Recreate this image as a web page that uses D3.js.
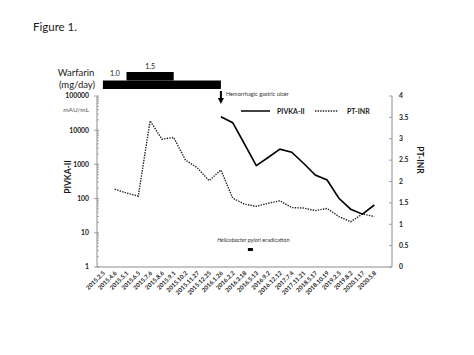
<!DOCTYPE html>
<html><head><meta charset="utf-8">
<script src="https://cdn.jsdelivr.net/npm/d3@7"></script>
<style>
html,body{margin:0;padding:0;background:#fff;}
svg{display:block;font-family:Lato,"Open Sans",sans-serif;}
</style></head>
<body>
<svg id="c" width="474" height="355"></svg>
<script>
const categories = ["2015.2.5","2015.4.6","2015.5.1","2015.6.5","2015.7.6","2015.8.6","2015.9.1","2015.10.2","2015.11.27","2015.12.25","2016.1.26","2016.2.2","2016.3.18","2016.5.13","2016.9.2","2016.12.12","2017.7.4","2017.11.21","2018.5.17","2018.10.19","2019.2.5","2019.8.2","2020.1.17","2020.5.8"];
const pivka = [null,null,null,null,null,null,null,null,null,null,24800,16600,3950,916,1590,2780,2260,1080,490,350,102,49,35,65];
const ptinr = [null,1.82,1.73,1.66,3.42,2.99,3.03,2.50,2.32,2.02,2.27,1.61,1.47,1.42,1.49,1.55,1.39,1.38,1.32,1.37,1.18,1.06,1.24,1.18];
const leftTicks = [1,10,100,1000,10000,100000];
const rightTicks = [0,0.5,1,1.5,2,2.5,3,3.5,4];
const warfarin = [
  {from:"2015.2.5", to:"2016.1.26", dose:1.0, label:"1.0"},
  {from:"2015.5.1", to:"2015.9.1", dose:1.5, label:"1.5"}
];
const ulcerDate = "2016.1.26";
const hpDate = "2016.5.13";

const svg = d3.select("#c");
const L = 97, R = 392, T = 96, B = 267;
const domain = categories.concat([" "]);
const x = d3.scaleBand().domain(domain).range([L, R]);
const xc = d => x(d) + x.bandwidth()/2;
const yL = d3.scaleLog().domain([1,100000]).range([B, T]);
const yR = d3.scaleLinear().domain([0,4]).range([B, T]);
const axisCol = "#8c8c8c";
const txt = "#1a1a1a";

// Title
svg.append("text").attr("x",33).attr("y",31).attr("font-size",11.5).attr("fill",txt).text("Figure 1.");

// Warfarin
svg.append("text").attr("x",76).attr("y",76).attr("text-anchor","middle").attr("font-size",9.5).attr("fill",txt).text("Warfarin");
svg.append("text").attr("x",77).attr("y",88).attr("text-anchor","middle").attr("font-size",9.5).attr("fill",txt).text("(mg/day)");
const yW = d3.scaleLinear().domain([0.5,1.5]).range([89,72]);
svg.selectAll("rect.w").data(warfarin).enter().append("rect")
  .attr("x", d => xc(d.from)).attr("width", d => xc(d.to) - xc(d.from))
  .attr("y", d => yW(d.dose)).attr("height", d => (d.dose > 1 ? yW(1.0) : 89) - yW(d.dose))
  .attr("fill","#000");
svg.append("text").attr("x", 115).attr("y", 76).attr("text-anchor","middle").attr("font-size",7).attr("fill",txt).text(warfarin[0].label);
svg.append("text").attr("x", (xc(warfarin[1].from)+xc(warfarin[1].to))/2).attr("y", 68.5).attr("text-anchor","middle").attr("font-size",7).attr("fill",txt).text(warfarin[1].label);

// Arrow for ulcer
const ax = xc(ulcerDate);
svg.append("line").attr("x1",ax).attr("x2",ax).attr("y1",91).attr("y2",99).attr("stroke","#000").attr("stroke-width",2);
svg.append("path").attr("d",`M${ax-3},98 L${ax+3},98 L${ax},104 Z`).attr("fill","#000");
svg.append("text").attr("x",ax+5).attr("y",96).attr("font-size",5.6).attr("fill","#333").text("Hemorrhagic gastric ulcer");

// Axes lines
svg.append("line").attr("x1",L).attr("x2",L).attr("y1",T).attr("y2",B).attr("stroke",axisCol).attr("stroke-width",1);
svg.append("line").attr("x1",R).attr("x2",R).attr("y1",T).attr("y2",B).attr("stroke",axisCol).attr("stroke-width",1);
svg.append("line").attr("x1",L).attr("x2",R).attr("y1",B).attr("y2",B).attr("stroke",axisCol).attr("stroke-width",1);

// Left axis ticks
const minor = [];
for (let e=0;e<5;e++) for (let m=2;m<=9;m++) minor.push(m*Math.pow(10,e));
svg.selectAll("line.mn").data(minor).enter().append("line")
  .attr("x1",L).attr("x2",L+2).attr("y1",d=>yL(d)).attr("y2",d=>yL(d)).attr("stroke",axisCol).attr("stroke-width",0.7);
svg.selectAll("line.mj").data(leftTicks).enter().append("line")
  .attr("x1",L-3).attr("x2",L+2).attr("y1",d=>yL(d)).attr("y2",d=>yL(d)).attr("stroke",axisCol).attr("stroke-width",0.8);
svg.selectAll("text.lt").data(leftTicks).enter().append("text")
  .attr("x",89).attr("y",d=>yL(d)+2.3).attr("text-anchor","end").attr("font-size",6.8).attr("font-weight","bold").attr("fill",txt).text(d=>d);
svg.append("text").attr("x",89).attr("y",112).attr("text-anchor","end").attr("font-size",6.5).attr("fill","#555").text("mAU/mL");
svg.append("text").attr("transform","translate(71,177) rotate(-90)").attr("text-anchor","middle").attr("font-size",8.5).attr("font-weight","bold").attr("fill",txt).text("PIVKA-II");

// Right axis
svg.selectAll("line.rt").data(rightTicks).enter().append("line")
  .attr("x1",R-3).attr("x2",R).attr("y1",d=>yR(d)).attr("y2",d=>yR(d)).attr("stroke",axisCol).attr("stroke-width",0.8);
svg.selectAll("text.rt").data(rightTicks).enter().append("text")
  .attr("x",399).attr("y",d=>yR(d)+2.3).attr("font-size",6.8).attr("font-weight","bold").attr("fill",txt).text(d=>d);
svg.append("text").attr("transform","translate(417,160) rotate(90)").attr("text-anchor","middle").attr("font-size",8.5).attr("font-weight","bold").attr("fill",txt).text("PT-INR");

// X labels
svg.selectAll("text.xl").data(categories).enter().append("text")
  .attr("transform", d => `translate(${xc(d)+1},${B+5}) rotate(-45)`)
  .attr("text-anchor","end").attr("dy","0.35em").attr("font-size",6).attr("font-weight","bold").attr("fill",txt).text(d=>d);

// Lines
const lineL = d3.line().defined(d=>d.v!=null).x(d=>xc(d.c)).y(d=>yL(d.v));
const lineR = d3.line().defined(d=>d.v!=null).x(d=>xc(d.c)).y(d=>yR(d.v));
svg.append("path").datum(categories.map((c,i)=>({c,v:ptinr[i]})))
  .attr("d",lineR).attr("fill","none").attr("stroke","#222").attr("stroke-width",1.4).attr("stroke-dasharray","1.4,1.2");
svg.append("path").datum(categories.map((c,i)=>({c,v:pivka[i]})))
  .attr("d",lineL).attr("fill","none").attr("stroke","#000").attr("stroke-width",1.6);

// Legend
svg.append("line").attr("x1",241).attr("x2",270).attr("y1",111).attr("y2",111).attr("stroke","#000").attr("stroke-width",1.5);
svg.append("text").attr("x",277).attr("y",113.5).attr("font-size",7).attr("font-weight","bold").attr("fill",txt).text("PIVKA-II");
svg.append("line").attr("x1",315).attr("x2",338).attr("y1",111).attr("y2",111).attr("stroke","#222").attr("stroke-width",1.4).attr("stroke-dasharray","1.4,1.2");
svg.append("text").attr("x",347).attr("y",113.5).attr("font-size",7).attr("font-weight","bold").attr("fill",txt).text("PT-INR");

// H. pylori annotation
const hx = x(hpDate);
const t = svg.append("text").attr("x",hx+3).attr("y",242).attr("text-anchor","middle").attr("font-size",5.6).attr("fill","#333");
t.append("tspan").attr("font-style","italic").text("Helicobacter pylori");
t.append("tspan").text(" eradication");
svg.append("rect").attr("x",hx-2.5).attr("y",248).attr("width",5).attr("height",3).attr("fill","#000");
</script>
</body></html>
